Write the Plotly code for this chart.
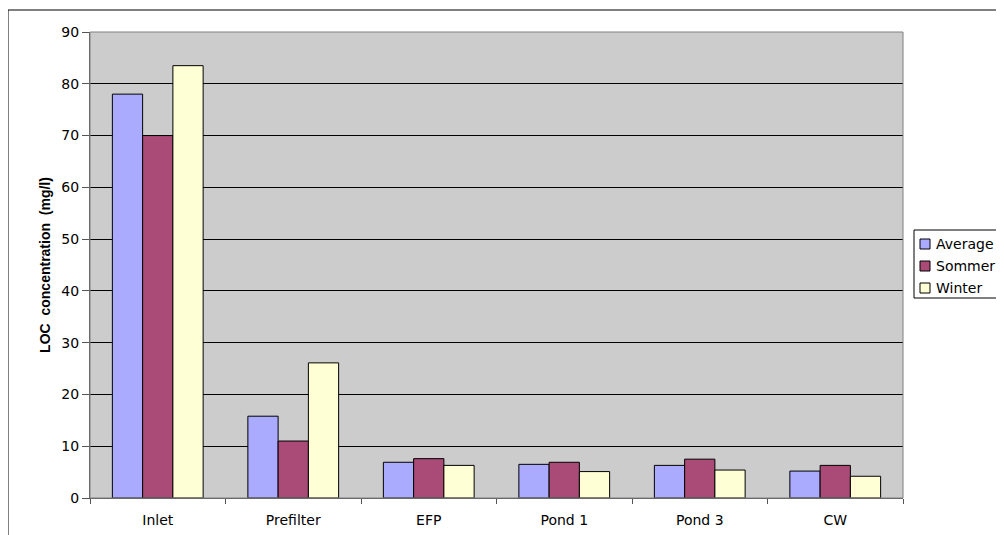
import plotly.graph_objects as go

categories = ["Inlet", "Prefilter", "EFP", "Pond 1", "Pond 3", "CW"]
average = [78.0, 15.8, 6.9, 6.5, 6.3, 5.2]
sommer = [70.0, 11.0, 7.6, 6.9, 7.5, 6.3]
winter = [83.5, 26.1, 6.3, 5.1, 5.4, 4.2]
series_names = ["Average", "Sommer", "Winter"]
series_colors = ["#AAAAFF", "#A94A77", "#FFFFD6"]
y_ticks = [0, 10, 20, 30, 40, 50, 60, 70, 80, 90]

# page body has an 8px margin, so the figure is offset by 8px
OFF = 8
W, H = 996, 527
PL, PR, PT, PB = 90, 903, 32, 498          # plot area in page pixels
L, R, T, B = PL - OFF, PR - OFF, PT - OFF, PB - OFF
PW, PH = PR - PL, PB - PT


def px(x):
    return (x - PL) / PW


def py(y):
    return (PB - y) / PH


fig = go.Figure()
for name, vals, col in zip(series_names, [average, sommer, winter], series_colors):
    fig.add_trace(go.Bar(name=name, x=categories, y=vals, showlegend=False,
                         marker=dict(color=col, line=dict(color="#000000", width=1))))

font_family = "DejaVu Sans, Verdana, sans-serif"
fig.update_layout(
    width=W, height=H,
    margin=dict(l=L, r=W - R, t=T, b=H - B, autoexpand=False),
    paper_bgcolor="white",
    plot_bgcolor="#CCCCCC",
    barmode="group",
    bargap=0.33,
    bargroupgap=0,
    font=dict(family=font_family, size=13, color="#000000"),
    showlegend=False,
)
fig.update_yaxes(range=[0, 90], tickvals=y_ticks, showgrid=True, gridcolor="#000000", gridwidth=1,
                 showline=True, linecolor="#555555", linewidth=1, ticks="outside", ticklen=7,
                 tickcolor="#555555", zeroline=False, tickfont=dict(size=14),
                 title=dict(text="<b>LOC\u00a0\u00a0concentration\u00a0\u00a0(mg/l)</b>",
                            font=dict(size=14, family="Liberation Sans, Arial, sans-serif"),
                            standoff=7))
fig.update_xaxes(showline=True, linecolor="#555555", linewidth=1, ticks="outside", ticklen=5,
                 tickcolor="#555555", tickson="boundaries", showgrid=False, tickfont=dict(size=14),
                 ticklabelstandoff=9)

# plot-area border (gray)
fig.add_shape(type="rect", xref="paper", yref="paper", x0=0, x1=1, y0=0, y1=1,
              line=dict(color="#808080", width=1), layer="above")
# outer chart border (right/bottom edges lie outside the visible page)
fig.add_shape(type="rect", xref="paper", yref="paper",
              x0=px(8), x1=px(1010), y0=py(545), y1=py(10),
              line=dict(color="#000000", width=1), layer="above")

# legend box (clipped at the right edge like the reference)
fig.add_shape(type="rect", xref="paper", yref="paper",
              x0=px(914), x1=px(1020), y0=py(298), y1=py(230),
              line=dict(color="#000000", width=1), fillcolor="white", layer="above")
for i, (name, col) in enumerate(zip(series_names, series_colors)):
    cy = 244 + 22 * i
    fig.add_shape(type="rect", xref="paper", yref="paper",
                  x0=px(920), x1=px(930), y0=py(cy + 5), y1=py(cy - 5),
                  line=dict(color="#000000", width=1), fillcolor=col, layer="above")
    fig.add_annotation(xref="paper", yref="paper", x=px(934), y=py(cy), text=name,
                       showarrow=False, xanchor="left", yanchor="middle",
                       font=dict(size=14, family=font_family, color="#000000"))

fig.write_html("out.html")
